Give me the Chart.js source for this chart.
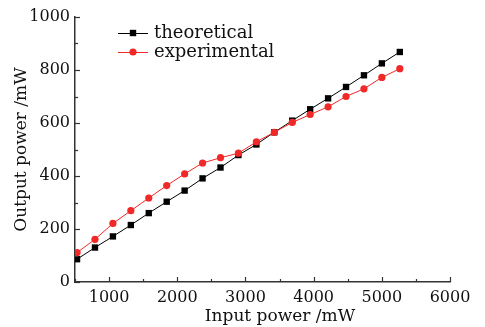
<!DOCTYPE html>
<html>
<head>
<meta charset="utf-8">
<script src="https://cdn.jsdelivr.net/npm/chart.js@4/dist/chart.umd.min.js"></script>
<style>
html,body{margin:0;padding:0;background:#fff;}
#wrap{width:485px;height:327px;position:relative;}
</style>
</head>
<body>
<div id="wrap"><canvas id="c" width="485" height="327"></canvas></div>
<script>
const inputPower = [530, 793, 1056, 1319, 1582, 1845, 2108, 2371, 2634, 2897, 3160, 3423, 3686, 3949, 4212, 4475, 4738, 5001, 5264];
const theoretical = [86, 130, 172, 215, 260, 303, 345, 391, 432, 479, 519, 565, 609, 652, 693, 736, 780, 825, 868];
const experimental = [111, 161, 221, 269, 317, 364, 408, 449, 469, 486, 529, 565, 602, 632, 661, 700, 729, 772, 805];
const seriesNames = ['theoretical', 'experimental'];
const xTitle = 'Input power /mW';
const yTitle = 'Output power /mW';

const FONT = '"DejaVu Serif", "Liberation Serif", serif';
const RED = '#f02828';
const AXIS = '#333333';

function pts(ys){ return inputPower.map((x,i)=>({x:x, y:ys[i]})); }

const decor = {
  id: 'decor',
  afterDraw(chart){
    const ctx = chart.ctx;
    const xs = chart.scales.x, ys = chart.scales.y;
    const ca = chart.chartArea;
    ctx.save();
    ctx.strokeStyle = AXIS;
    ctx.lineWidth = 1.2;
    xs.ticks.forEach(t => {
      const px = Math.round(xs.getPixelForValue(t.value)) + 0.5;
      const major = t.value % 1000 === 0;
      const len = major ? 5 : 3;
      ctx.beginPath(); ctx.moveTo(px, ca.bottom); ctx.lineTo(px, ca.bottom - len); ctx.stroke();
    });
    ys.ticks.forEach(t => {
      const py = Math.round(ys.getPixelForValue(t.value)) + 0.5;
      const major = t.value % 200 === 0;
      const len = major ? 5 : 3;
      ctx.beginPath(); ctx.moveTo(ca.left, py); ctx.lineTo(ca.left + len, py); ctx.stroke();
    });
    ctx.fillStyle = '#111';
    ctx.font = '17px ' + FONT;
    ctx.textAlign = 'center';
    ctx.textBaseline = 'middle';
    ctx.fillText(xTitle, 280, 317);
    ctx.save();
    ctx.translate(22, (ca.top + ca.bottom) / 2);
    ctx.rotate(-Math.PI / 2);
    ctx.fillText(yTitle, 0, 0);
    ctx.restore();
    const rows = [
      {name: seriesNames[0], color: '#000', style: 'rect', y: 33},
      {name: seriesNames[1], color: RED, style: 'circle', y: 52}
    ];
    ctx.font = '18px ' + FONT;
    ctx.textAlign = 'left';
    rows.forEach(r => {
      ctx.strokeStyle = r.color; ctx.lineWidth = 1;
      ctx.beginPath(); ctx.moveTo(118, r.y + 0.5); ctx.lineTo(148, r.y + 0.5); ctx.stroke();
      ctx.fillStyle = r.color;
      if (r.style === 'rect') { ctx.fillRect(133 - 3.2, r.y - 3.2, 6.4, 6.4); }
      else { ctx.beginPath(); ctx.arc(133, r.y, 3.6, 0, Math.PI * 2); ctx.fill(); }
      ctx.fillStyle = '#111';
      ctx.fillText(r.name, 154, r.y);
    });
    ctx.restore();
  }
};

new Chart(document.getElementById('c'), {
  type: 'line',
  data: {
    datasets: [
      {
        label: seriesNames[1],
        data: pts(experimental),
        borderColor: RED,
        backgroundColor: RED,
        borderWidth: 1,
        pointStyle: 'circle',
        pointRadius: 3.6,
        pointBorderWidth: 0,
        order: 0
      },
      {
        label: seriesNames[0],
        data: pts(theoretical),
        borderColor: '#000',
        backgroundColor: '#000',
        borderWidth: 1,
        pointStyle: 'rect',
        pointRadius: 4.5,
        pointBorderWidth: 0,
        order: 1
      }
    ]
  },
  options: {
    responsive: false,
    animation: false,
    events: [],
    layout: { padding: { left: 0, right: 35, top: 17, bottom: 0 } },
    plugins: { legend: { display: false }, tooltip: { enabled: false } },
    scales: {
      x: {
        type: 'linear',
        min: 500, max: 6000,
        afterFit: s => { s.height = 45; },
        grid: { display: false, drawTicks: false },
        border: { display: true, color: AXIS, width: 1.5 },
        ticks: {
          stepSize: 500,
          padding: 6,
          color: '#111',
          font: { family: FONT, size: 16 },
          maxRotation: 0,
          autoSkip: false,
          callback: v => (v % 1000 === 0 ? String(v) : '')
        }
      },
      y: {
        min: 0, max: 1000,
        afterFit: s => { s.width = 75; },
        grid: { display: false, drawTicks: false },
        border: { display: true, color: AXIS, width: 1.5 },
        ticks: {
          stepSize: 100,
          padding: 5,
          color: '#111',
          font: { family: FONT, size: 16 },
          autoSkip: false,
          callback: v => (v % 200 === 0 ? String(v) : '')
        }
      }
    }
  },
  plugins: [decor]
});
</script>
</body>
</html>
